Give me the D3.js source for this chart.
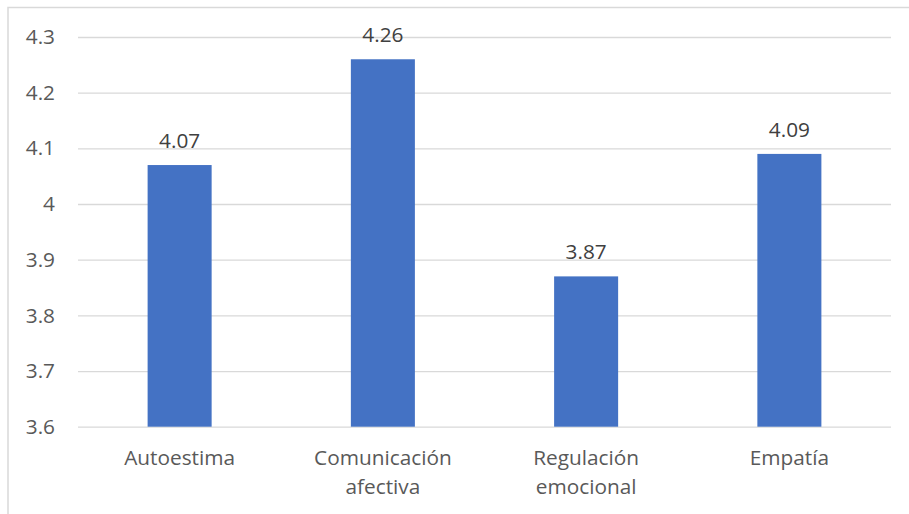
<!DOCTYPE html>
<html>
<head>
<meta charset="utf-8">
<script src="https://cdn.jsdelivr.net/npm/d3@7"></script>
<style>
  body { margin: 0; background: #fff; }
  text { font-family: "Open Sans", sans-serif; }
</style>
</head>
<body>
<svg id="chart"></svg>
<script>
const categories = ["Autoestima", "Comunicación afectiva", "Regulación emocional", "Empatía"];
const values = [4.07, 4.26, 3.87, 4.09];
const yTicks = [3.6, 3.7, 3.8, 3.9, 4, 4.1, 4.2, 4.3];

const width = 909;
const height = 514;
const marginTop = 37;
const marginLeft = 78;
const marginRight = 18;
const plotBottom = 426.7;
const fontSize = 20.8;

const svg = d3.select("#chart")
  .attr("width", width)
  .attr("height", height)
  .attr("viewBox", [0, 0, width, height]);

// chart border
svg.append("rect")
  .attr("x", 8)
  .attr("y", 7.5)
  .attr("width", width + 10)
  .attr("height", height + 10)
  .attr("fill", "#fff")
  .attr("stroke", "#d9d9d9")
  .attr("stroke-width", 1.5);

const x = d3.scaleBand()
  .domain(categories)
  .range([marginLeft, width - marginRight])
  .padding(0);

const y = d3.scaleLinear()
  .domain([3.6, 4.3])
  .range([plotBottom, marginTop]);

const barWidth = x.bandwidth() * 0.315;

// grid lines + y labels
svg.append("g")
  .attr("transform", `translate(${marginLeft},0)`)
  .call(d3.axisLeft(y).tickValues(yTicks).tickSize(0).tickPadding(23).tickFormat(d => d3.format("")(d)))
  .call(g => g.select(".domain").remove())
  .call(g => g.selectAll(".tick line").clone()
    .attr("x2", width - marginLeft - marginRight)
    .attr("stroke", "#d9d9d9")
    .attr("stroke-width", 1.3))
  .call(g => g.selectAll(".tick text")
    .attr("fill", "#595959")
    .attr("font-size", fontSize)
    .attr("font-family", "Open Sans, sans-serif"));

// bars
svg.append("g")
  .selectAll("rect")
  .data(values)
  .join("rect")
    .attr("x", (d, i) => x(categories[i]) + (x.bandwidth() - barWidth) / 2)
    .attr("y", d => y(d))
    .attr("width", barWidth)
    .attr("height", d => y(3.6) - y(d))
    .attr("fill", "#4472c4");

// value labels
svg.append("g")
  .selectAll("text")
  .data(values)
  .join("text")
    .attr("x", (d, i) => x(categories[i]) + x.bandwidth() / 2)
    .attr("y", d => y(d) - 17)
    .attr("text-anchor", "middle")
    .attr("fill", "#404040")
    .attr("font-size", fontSize)
    .text(d => d3.format(".2f")(d));

// category labels, wrapped onto two lines
const labels = svg.append("g")
  .selectAll("text")
  .data(categories)
  .join("text")
    .attr("x", d => x(d) + x.bandwidth() / 2)
    .attr("y", plotBottom + 38)
    .attr("text-anchor", "middle")
    .attr("fill", "#595959")
    .attr("font-size", fontSize);

labels.each(function(d) {
  const words = d.split(" ");
  const t = d3.select(this);
  words.forEach((w, i) => {
    t.append("tspan")
      .attr("x", x(d) + x.bandwidth() / 2)
      .attr("dy", i === 0 ? 0 : 29)
      .text(w);
  });
});
</script>
</body>
</html>
